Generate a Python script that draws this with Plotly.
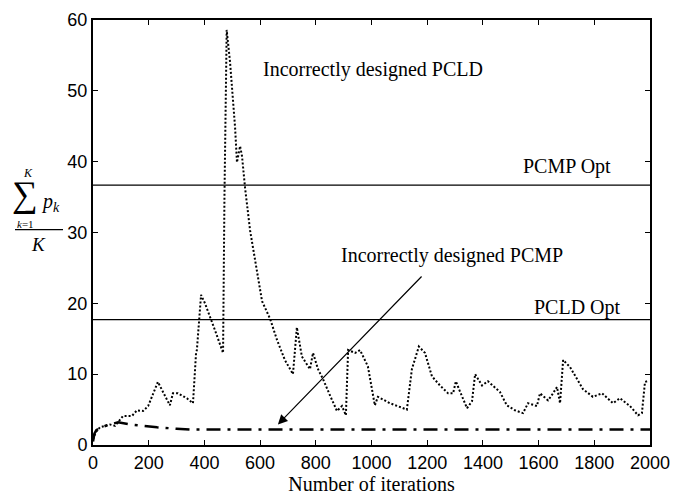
import plotly.graph_objects as go

# ---------------- data ----------------
pcld_x = [0, 10, 25, 61, 79, 108, 140, 158, 180, 198, 233, 276, 287, 305, 337, 359, 370, 373,
          388, 402, 438, 467, 472, 480, 492, 503, 510, 517, 528, 535, 546, 564, 582, 607, 636,
          661, 689, 718, 732, 750, 779, 790, 808, 826, 851, 876, 894, 908, 916, 941, 959, 987,
          1012, 1023, 1066, 1127, 1145, 1170, 1192, 1217, 1246, 1275, 1293, 1303, 1314, 1343,
          1361, 1372, 1397, 1418, 1461, 1486, 1515, 1544, 1562, 1594, 1605, 1634, 1652, 1666,
          1677, 1688, 1713, 1759, 1795, 1828, 1867, 1892, 1928, 1957, 1971, 1982, 1990]
pcld_y = [0.8, 1.8, 2.5, 2.9, 2.7, 4.1, 4.1, 4.9, 4.8, 5.5, 8.9, 5.6, 7.3, 7.3, 6.6, 5.9, 13.0, 13.4,
          21.2, 20.0, 16.2, 13.0, 35.0, 58.6, 54.1, 48.6, 44.9, 39.9, 42.2, 40.8, 36.3, 30.3, 26.2, 20.3, 17.8,
          14.8, 12.0, 10.0, 16.6, 12.5, 10.7, 13.0, 10.7, 9.3, 7.0, 4.8, 5.5, 4.2, 13.4, 13.0, 13.4, 11.1,
          5.6, 6.8, 5.9, 5.0, 10.7, 13.9, 13.0, 9.7, 8.4, 7.3, 7.3, 9.0, 7.9, 5.2,
          6.2, 10.0, 8.4, 9.0, 7.5, 5.6, 4.9, 4.5, 5.9, 5.5, 7.3, 6.3, 7.3, 8.2,
          5.9, 12.0, 11.0, 7.9, 6.8, 7.3, 5.9, 6.6, 5.5, 4.2, 4.5, 8.9, 9.0]

pcmp_x = [0, 5, 12, 30, 60, 90, 133, 180, 230, 300, 348, 450, 600, 800, 1000, 1200, 1400, 1600, 1800, 2000]
pcmp_y = [0.5, 1.6, 2.1, 2.5, 2.9, 3.2, 2.9, 2.7, 2.5, 2.3, 2.2, 2.2, 2.2, 2.2, 2.2, 2.2, 2.2, 2.2, 2.2, 2.2]

pcmp_opt = 36.7
pcld_opt = 17.7

x_ticks = [0, 200, 400, 600, 800, 1000, 1200, 1400, 1600, 1800, 2000]
y_ticks = [0, 10, 20, 30, 40, 50, 60]

# ---------------- figure ----------------
W, H = 690, 499
L, R, T, B = 93, 40, 10, 51
PW, PH = W - L - R, H - T - B


def px(xp):
    return (xp - L) / PW


def py(yp):
    return (H - B - yp) / PH


serif = "Liberation Serif, Times New Roman, serif"
sans = "Liberation Sans, Arial, sans-serif"

fig = go.Figure()
fig.add_trace(go.Scatter(x=[0, 2000], y=[pcmp_opt, pcmp_opt], mode="lines",
                         line=dict(color="black", width=1.2), showlegend=False, hoverinfo="skip"))
fig.add_trace(go.Scatter(x=[0, 2000], y=[pcld_opt, pcld_opt], mode="lines",
                         line=dict(color="black", width=1.2), showlegend=False, hoverinfo="skip"))
fig.add_trace(go.Scatter(x=pcld_x, y=pcld_y, mode="lines",
                         line=dict(color="black", width=2, dash="2px,2px"), showlegend=False))
fig.add_trace(go.Scatter(x=pcmp_x, y=pcmp_y, mode="lines",
                         line=dict(color="black", width=2.5, dash="14px,7px,3px,7px"), showlegend=False))

axis_common = dict(showgrid=False, zeroline=False, showline=True, linecolor="black", linewidth=2,
                   ticks="inside", ticklen=5, tickwidth=1, tickcolor="black", mirror="ticks",
                   tickfont=dict(family=sans, size=18, color="black"))

fig.update_xaxes(range=[0, 2000], tickvals=x_ticks, ticktext=[str(v) for v in x_ticks],
                 title=dict(text="Number of iterations", font=dict(family=serif, size=20, color="black"),
                            standoff=2), **axis_common)
fig.update_yaxes(range=[0, 60], tickvals=y_ticks, ticktext=[str(v) for v in y_ticks], **axis_common)

annots = [
    dict(x=1005, y=53.0, text="Incorrectly designed PCLD"),
    dict(x=1702, y=39.3, text="PCMP Opt"),
    dict(x=1289, y=26.8, text="Incorrectly designed PCMP"),
    dict(x=1738, y=19.4, text="PCLD Opt"),
]
for a in annots:
    fig.add_annotation(x=a["x"], y=a["y"], xref="x", yref="y", text=a["text"], showarrow=False,
                       font=dict(family=serif, size=20, color="black"))

# arrow
fig.add_annotation(x=664, y=2.9, ax=1185, ay=24, xref="x", yref="y", axref="x", ayref="y",
                   text="", showarrow=True, arrowhead=2, arrowsize=1.6, arrowwidth=1.2, arrowcolor="black")

# y-axis label built as a fraction
ylab = [
    (25, 189, "\u2211", 36),
    (28, 168, "<i>K</i>", 12),
    (25, 220, "<i>k</i>=1", 11),
    (50, 198, "<i>p</i><sub><i>k</i></sub>", 20),
    (38, 241, "<i>K</i>", 19),
]
for xp, yp, t, s in ylab:
    fig.add_annotation(x=px(xp), y=py(yp), xref="paper", yref="paper", text=t, showarrow=False,
                       xanchor="center", yanchor="middle", font=dict(family=serif, size=s, color="black"))
fig.add_shape(type="line", xref="paper", yref="paper", x0=px(15), x1=px(63), y0=py(226), y1=py(226),
              line=dict(color="black", width=1.2))

fig.update_layout(width=W, height=H, margin=dict(l=L, r=R, t=T, b=B),
                  paper_bgcolor="white", plot_bgcolor="white")

fig.write_html("out.html")
